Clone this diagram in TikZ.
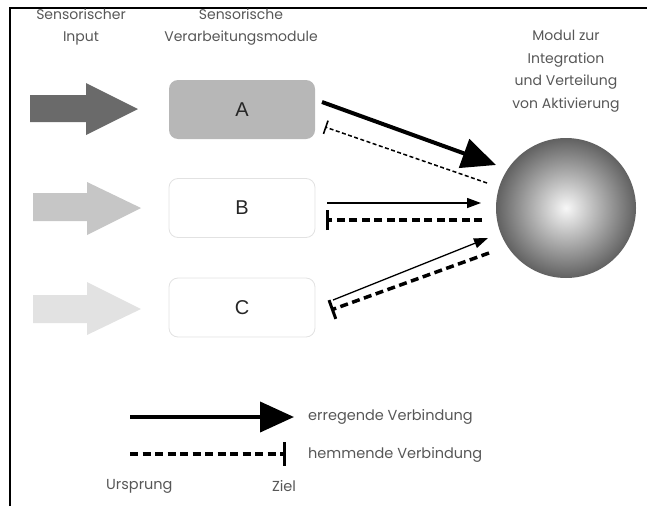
\documentclass[tikz,border=0pt]{standalone}
\usepackage{fontspec}
\setmainfont{Poppins}
\setsansfont{Liberation Sans}
\usetikzlibrary{arrows.meta}
\definecolor{txt}{HTML}{575757}
\definecolor{inA}{HTML}{6A6A6A}
\definecolor{inB}{HTML}{C6C6C6}
\definecolor{inC}{HTML}{E2E2E2}
\definecolor{boxA}{HTML}{B7B7B7}
\definecolor{boxline}{HTML}{E2E2E2}
\begin{document}
\begin{tikzpicture}[x=1pt,y=-1pt,
  hdr/.style={text=txt,font=\fontsize{14}{22.5}\selectfont,align=center,inner sep=0pt},
  leg/.style={text=txt,font=\fontsize{14.5}{16}\selectfont,anchor=west,inner sep=0pt},
  modbox/.style={rounded corners=9pt,minimum width=146pt,minimum height=59pt,draw=boxline,line width=0.8pt,fill=white,font=\sffamily\fontsize{20}{20}\selectfont,text=black!85},
  exthick/.style={line width=4pt,-{Triangle[length=34pt,width=30pt]}},
  exthin/.style={line width=1.3pt,-{Triangle[length=14pt,width=10pt]}},
  inhthin/.style={line width=1.5pt,dash pattern=on 4pt off 2.5pt,-{Bar[width=14pt,line width=1.6pt]}},
  inhthick/.style={line width=3.5pt,dash pattern=on 8pt off 4.5pt,-{Bar[width=20pt,line width=3pt]}}
]
\useasboundingbox (0,0) rectangle (647,506);
% frame
\draw[line width=2.5pt] (10,506) -- (10,8) -- (648,8);
% headers
\node[hdr] (h1) at (81,27) {Sensorischer\\Input};
\node[hdr] (h2) at (241,27) {Sensorische\\Verarbeitungsmodule};
\node[hdr] (h3) at (566,71) {Modul zur\\Integration\\und Verteilung\\von Aktivierung};
% input arrows
\fill[inA] (30,95) -- (86,95) -- (86,83) -- (138,109) -- (86,135) -- (86,122) -- (30,122) -- cycle;
\fill[inB] (33,193) -- (87,193) -- (87,182) -- (141,208) -- (87,235) -- (87,221) -- (33,221) -- cycle;
\fill[inC] (33,295) -- (87,295) -- (87,282) -- (141,309) -- (87,335) -- (87,323) -- (33,323) -- cycle;
% modules
\node[modbox,fill=boxA,draw=none] (A) at (242,109.5) {A};
\node[modbox] (B) at (242,208) {B};
\node[modbox] (C) at (242,307.5) {C};
% sphere
\node[circle,minimum size=140pt,inner sep=0pt,shading=radial,inner color=white!97!black,outer color=black!62] (S) at (566,208) {};
% connector end points
\coordinate (a1) at (322,102); \coordinate (a2) at (496,165);
\coordinate (a3) at (487,183); \coordinate (a4) at (325,127);
\coordinate (b1) at (327,203); \coordinate (b2) at (481,203);
\coordinate (b3) at (482,220); \coordinate (b4) at (326,220);
\coordinate (c1) at (333,300); \coordinate (c2) at (488,238);
\coordinate (c3) at (489,253); \coordinate (c4) at (331,310);
\draw[exthick] (a1) -- (a2);
\draw[inhthin] (a3) -- (a4);
\draw[exthin] (b1) -- (b2);
\draw[inhthick] (b3) -- (b4);
\draw[exthin] (c1) -- (c2);
\draw[inhthick] (c3) -- (c4);
% legend
\coordinate (l1) at (130,417); \coordinate (l2) at (294,417);
\coordinate (l3) at (130,454); \coordinate (l4) at (286,454);
\draw[exthick] (l1) -- (l2);
\draw[line width=3.5pt,dash pattern=on 8pt off 4.5pt,-{Bar[width=24pt,line width=3pt]}] (l3) -- (l4);
\node[leg] (e) at (308,417) {erregende Verbindung};
\node[leg] (h) at (308,455) {hemmende Verbindung};
\node[leg] (u) at (106,486) {Ursprung};
\node[leg,anchor=center] (z) at (284,486) {Ziel};
\end{tikzpicture}
\end{document}
